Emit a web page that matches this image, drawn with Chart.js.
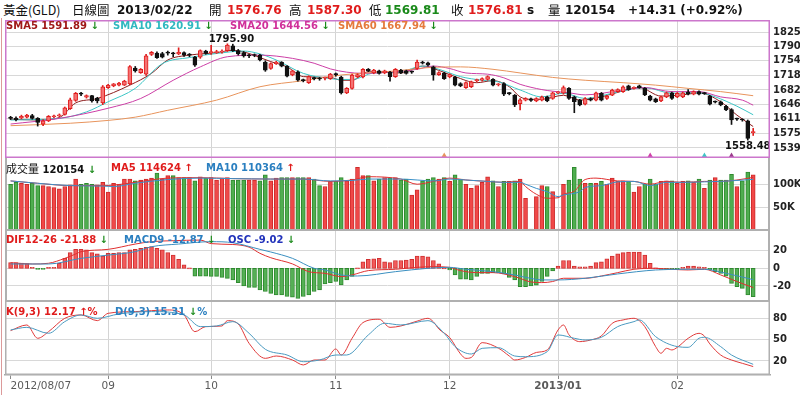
<!DOCTYPE html>
<html>
<head>
<meta charset="utf-8">
<script src="https://cdn.jsdelivr.net/npm/chart.js@4.4.1/dist/chart.umd.min.js"></script>
<style>
body { margin:0; width:800px; height:395px; background:#fff; position:relative; overflow:hidden; font-family:"DejaVu Sans", Verdana, sans-serif; }
canvas { position:absolute; left:0; }
.h { position:absolute; top:3px; white-space:nowrap; font-size:12px; font-weight:bold; line-height:14px; color:#111; }
.cjk { font-family:"Noto Sans CJK TC", sans-serif; font-weight:normal; font-size:12.5px; }
.t { position:absolute; white-space:nowrap; font-size:10px; font-weight:bold; line-height:12px; }
.red { color:#e01c1c; } .grn { color:#1a8a1a; } .blu { color:#2a7fc0; }
.edge { position:absolute; left:1px; top:18px; width:1px; height:377px; background:#dc9a9a; }
</style>
</head>
<body>
<canvas id="cMain" width="800" height="138" style="top:20px"></canvas>
<canvas id="cVol" width="800" height="73" style="top:158px"></canvas>
<canvas id="cMacd" width="800" height="71" style="top:231px"></canvas>
<canvas id="cKd" width="800" height="93" style="top:302px"></canvas>
<div class="edge"></div>

<div class="h cjk" style="left:3px">黃金(GLD)</div>
<div class="h cjk" style="left:72px">日線圖</div>
<div class="h" style="left:117px">2013/02/22</div>
<div class="h cjk" style="left:209px">開</div>
<div class="h red" style="left:227px">1576.76</div>
<div class="h cjk" style="left:289px">高</div>
<div class="h red" style="left:307px">1587.30</div>
<div class="h cjk" style="left:369px">低</div>
<div class="h grn" style="left:385px">1569.81</div>
<div class="h cjk" style="left:451px">收</div>
<div class="h red" style="left:468px">1576.81</div>
<div class="h" style="left:527px">s</div>
<div class="h cjk" style="left:548px">量</div>
<div class="h" style="left:565px">120154</div>
<div class="h" style="left:628px">+14.31 (+0.92%)</div>

<div class="t" style="left:6px;top:20px;color:#a01818">SMA5 1591.89 <span class="grn">↓</span></div>
<div class="t" style="left:113px;top:20px;color:#30b8c0">SMA10 1620.91 <span class="grn">↓</span></div>
<div class="t" style="left:230px;top:20px;color:#d0309a">SMA20 1644.56 <span class="grn">↓</span></div>
<div class="t" style="left:338px;top:20px;color:#e57a3c">SMA60 1667.94 <span class="grn">↓</span></div>

<div class="t" style="left:6px;top:162px;color:#111"><span style="font-family:'Noto Sans CJK TC';font-weight:normal;font-size:11px">成交量</span> 120154 <span class="grn">↓</span></div>
<div class="t red" style="left:111px;top:162px">MA5 114624 ↑</div>
<div class="t blu" style="left:206px;top:162px">MA10 110364 <span class="red">↑</span></div>

<div class="t red" style="left:6px;top:234px">DIF12-26 -21.88 <span class="grn">↓</span></div>
<div class="t blu" style="left:124px;top:234px">MACD9 -12.87 <span class="grn">↓</span></div>
<div class="t" style="left:228px;top:234px;color:#2233bb">OSC -9.02 <span class="grn">↓</span></div>

<div class="t red" style="left:6px;top:306px">K(9,3) 12.17 ↑%</div>
<div class="t blu" style="left:115px;top:306px">D(9,3) 15.31 <span class="grn">↓</span>%</div>

<script>
// trading days 2012/08/07 .. 2013/02/22, one entry per day
const opens = [1614,1613,1613,1615,1619,1612,1598,1606,1616,1618,1622,1636,1656,1673,1664,1668,1662,1650,1688,1692,
  1694,1694,1697,1736,1725,1721,1770,1773,1772,1774,1772,1771,1774,1769,1763,1763,1778,1774,1774,1775,
  1779,1791,1779,1774,1767,1768,1768,1751,1735,1747,1750,1741,1719,1727,1706,1700,1711,1710,1711,1710,
  1721,1714,1675,1686,1714,1714,1733,1724,1729,1724,1726,1715,1731,1729,1727,1735,1751,1749,1739,1720,
  1724,1714,1714,1698,1688,1690,1705,1706,1708,1708,1695,1698,1674,1669,1648,1657,1660,1655,1657,1665,
  1661,1675,1674,1686,1665,1657,1647,1661,1657,1674,1661,1669.5,1678,1678,1692,1686,1692,1686,1667,1660,
  1655,1665,1675,1665,1665,1677,1672,1678,1674,1667,1653,1653,1642,1634,1611,1609,1606,1576.76];
const highs = [1617,1616,1620,1622,1622,1614,1609,1619,1620,1623,1640,1662,1676,1676,1670,1669,1664,1693,1696,1698,
  1701,1706,1742,1740,1735,1770,1777,1776,1775,1778,1775,1786,1776,1772,1765,1781,1780,1792,1780,1781,
  1795.9,1795,1782,1777,1770,1771,1770,1754,1749,1753,1752,1742,1731,1729,1709,1717,1714,1713,1714,1723,
  1724,1716,1688,1721,1722,1735,1735,1733,1731,1731,1728,1735,1733,1731,1729,1756,1753,1751,1741,1727,
  1726,1722,1716,1700,1702,1704,1709,1712,1717,1710,1698,1700,1676,1671,1661,1663,1662,1663,1667,1667,
  1677,1678,1692,1688,1667,1659,1663,1663,1677,1676,1669,1684,1685,1692,1694,1690,1694,1688,1669,1662,
  1667,1677,1677,1676,1677,1683,1680,1680,1676,1669,1655,1655,1644,1636,1613,1611,1608,1587.30];
const lows = [1609,1606,1611,1613,1610,1593,1594,1604,1614,1616,1620,1634,1654,1668,1662,1652,1650,1646,1686,1690,
  1692,1693,1695,1726,1723,1718,1767,1760,1761,1768,1764,1769,1765,1764,1740,1760,1770,1770,1772,1773,
  1777,1777,1768,1763,1762,1764,1754,1728,1733,1745,1739,1714,1717,1704,1702,1698,1707,1706,1707,1708,
  1716,1672,1673,1684,1712,1712,1727,1722,1721,1722,1704,1713,1722,1721,1723,1733,1746,1741,1706,1718,
  1708,1712,1692,1690,1686,1688,1702,1704,1706,1692,1692,1668,1670,1641,1633,1655,1654,1653,1655,1653,
  1659,1673,1672,1659,1626,1643,1645,1655,1655,1655,1659,1668,1676,1676,1681,1684,1686,1668,1655,1651,
  1653,1663,1659,1663,1663,1670,1670,1670,1671,1645,1650,1643,1631,1597,1607,1605,1558.48,1569.81];
const closes = [1612,1609,1617,1620,1612,1602,1606,1617,1618,1621,1638,1658,1674,1672,1668,1655,1655,1690,1694,1697,
  1699,1704,1740,1729,1733,1766,1775,1762,1763,1773,1771,1775,1768,1768,1743,1779,1772,1775,1777,1778,
  1793,1779,1771,1766,1766,1767,1756,1731,1747,1751,1741,1716,1729,1706,1705,1715,1710,1709,1712,1721,
  1720,1675,1686,1719,1720,1733,1729,1731,1723,1729,1715,1733,1724,1723,1726,1751,1748,1743,1719,1725,
  1710,1720,1694,1692,1700,1702,1706,1710,1715,1694,1696,1672,1673,1645,1658,1661,1656,1661,1665,1655,
  1675,1676,1688,1661,1653,1645,1661,1657,1675,1657,1667,1682,1683,1690,1683,1688,1688,1670,1657,1653,
  1665,1675,1661,1674,1675,1672,1678,1672,1673,1647,1652,1645,1633,1608,1610,1608,1562.5,1576.81];
// volume in thousands
const volK = [100,104,102,100,102,97,97,95,93,90,95,98.5,111,100,102,100,98.5,104,83,102,
  100,111,111,107,109,111,113,124,111,118.5,118.5,114,114,114,107,116,113,114,109,113,
  114,109,109,109,109,109,107,120,107,113,114,114,114,114,114,114,111,97,95,106,
  106,114,107,111,136,118.5,118.5,107,111,114,113,114,109,111,77,88,107,111,114,111,
  114,106,120,111,100,91,97,104,116,107,95,106,106,107,111,70,4,73.5,97,95,
  84,4,100,109,136,111,102,102,102,106,100,113,106,107,106,83,95,100,111,100,
  106,107,107,102,106,107,104,111,91,109,114,109,109,121,95,107,126,120.154];
const osc = [1.8,1.8,1.7,1.5,0.1,-0.3,-0.3,0.1,0.1,1.6,3.2,5.0,6.1,6.1,5.9,5.0,4.6,3.9,4.8,4.8,
  5.0,5.0,5.9,6.1,6.4,6.7,6.9,6.4,5.9,5.0,4.2,2.9,1.1,0,-2.5,-2.5,-2.5,-2.6,-2.6,-2.9,
  -3.2,-3.7,-4.6,-5.6,-6.1,-6.1,-6.9,-7.4,-8.0,-8.5,-8.5,-9.0,-9.2,-9.6,-9.0,-8.5,-7.4,-6.9,-5.0,-4.6,
  -4.2,-5.3,-3.7,-2.6,0,2.1,2.9,3.0,3.2,2.1,1.8,2.5,2.5,2.6,2.9,3.9,3.9,3.7,2.5,1.4,
  0,-0.5,-2.1,-3.5,-3.5,-3.7,-2.6,-1.6,-1.6,-1.4,-1.4,-1.8,-2.9,-3.7,-5.9,-5.9,-5.6,-5.4,-4.2,-2.6,
  -0.8,0.7,2.5,2.5,0.7,0.5,0.5,0.7,1.8,2.1,3.0,3.9,4.6,5.0,5.2,5.2,5.2,4.2,1.6,0,
  -0.1,-0.1,-0.1,-0.1,0.3,0.7,0.7,0.5,0.1,-0.5,-1.1,-1.6,-2.5,-4.8,-5.9,-6.4,-8.5,-9.02];

// indicator lines: [day index, value]
const sma5 = [[0,1610],[5,1608],[9,1614],[12,1650],[16,1661],[22,1694],[26,1723],[29,1756],[33,1768],[38,1774],[41,1780],[44,1772],[46,1762],[48,1752],[51,1739],[54,1715],[59,1713],[61,1706],[63,1706],[66,1727],[72,1724],[76,1741],[78,1735],[82,1715],[86,1700],[89,1705],[92,1690],[94,1665],[96,1659],[98,1659],[102,1669],[105,1657],[109,1665],[113,1680],[116,1688],[120,1667],[124,1670],[127,1675],[131,1653],[134,1620],[137,1591.89]];
const sma10 = [[0,1608],[9,1612],[14,1628],[18,1653],[23,1686],[28,1747],[33,1762],[38,1772],[43,1778],[46,1771],[49,1756],[54,1723],[59,1710],[61,1708],[63,1708],[67,1724],[72,1727],[76,1741],[79,1733],[83,1715],[87,1706],[90,1702],[94,1682],[98,1665],[102,1674],[106,1661],[111,1674],[117,1688],[122,1674],[127,1675],[130,1665],[134,1642],[137,1620.91]];
const sma20 = [[0,1598],[9,1612],[18,1637],[24,1661],[30,1706],[35,1739],[40,1764],[46,1768],[52,1760],[56,1748],[59,1734],[62,1726],[65,1723],[71,1727],[75,1733],[78,1741],[81,1735],[84,1724],[88,1721],[91,1712],[94,1696],[98,1683],[100,1679],[103,1675],[106,1670],[113,1682],[117,1688],[122,1678],[127,1678],[131,1665],[135,1657],[137,1644.56]];
const sma60 = [[0,1594],[11,1600],[18,1607],[23,1615],[29,1632],[38,1657],[46,1690],[54,1705],[61,1719],[71,1729],[78,1738],[83,1739],[89,1733],[94,1724],[100,1713],[106,1706],[113,1700],[119,1694],[125,1686],[131,1678],[137,1667.94]];
const volMa5 = [[0,107],[5,102],[11,97],[17,97],[19,98],[23,104],[29,113],[35,114],[41,112],[48,111],[54,111],[59,106],[63,109],[66,116],[72,111],[75,100],[78,106],[81,113],[84,109],[88,106],[91,104],[94,106],[95,95],[97,78.5],[99,70],[101,71],[102,78.5],[104,85],[106,110],[108,113],[112,107],[115,106],[118,100],[121,106],[124,104],[128,106],[131,106],[134,109],[137,114.624]];
const volMa10 = [[0,107],[5,102],[11,97],[17,96],[19,95],[23,102],[29,110],[35,113],[41,112],[48,111],[54,111],[59,107],[63,108],[66,111],[72,111],[75,109],[78,107],[81,111],[84,109],[88,106],[91,104],[94,104],[95,100],[97,91],[99,84],[101,73.5],[102,77],[105,84],[106,93],[109,97],[112,105],[115,106],[118,97],[121,104],[124,104],[128,105],[131,106],[134,108],[137,110.364]];
const dif = [[0,6.4],[4,4.9],[7,5.7],[10,11.3],[12,16.2],[13,18.9],[18,21.5],[23,27.5],[26,30.2],[30,31.3],[35,32],[37,28],[41,27],[44,24],[46,17],[48,12],[52,5],[55,-3.8],[58,-5.7],[61,-9.4],[63,-7.5],[66,-2.6],[71,-1.1],[75,1.1],[78,1.9],[81,1.1],[83,-2.6],[86,-4.9],[89,-4.9],[93,-9.4],[96,-15.5],[98,-16.2],[100,-15],[102,-11.3],[106,-11.3],[109,-8.7],[112,-4.9],[115,-1.1],[119,0],[122,-1.1],[125,-1.9],[128,-1.1],[131,-7.5],[134,-15],[137,-21.88]];
const macd = [[0,4.9],[7,4.9],[13,11.3],[18,15],[23,18.9],[26,24.5],[31,27.5],[37,30.2],[41,29],[46,21.5],[48,18.5],[52,11.3],[56,0],[58,-1.9],[61,-7.5],[64,-8.7],[71,-3.8],[77,0],[81,1.1],[84,-1.1],[89,-3.8],[93,-7.5],[96,-11.5],[98,-13.2],[101,-13.2],[106,-11.3],[112,-6.4],[119,-1.9],[125,-1.1],[128,-1.1],[132,-5.7],[137,-12.87]];
const kLine = [[0,62.7],[3,70.6],[5,51.9],[7,61.2],[10,80],[13,84.7],[16,76.7],[18,87],[23,89.4],[29,91.7],[32,84.7],[34,61.2],[36,68.3],[39,69.2],[40,76.7],[42,72],[44,44.8],[47,23.7],[49,27],[52,21.4],[54,14.4],[56,21.4],[58,21.4],[60,36.9],[61,28.4],[63,51.9],[65,73.9],[68,78.6],[70,67.3],[72,69.2],[75,76],[77,80],[78,75],[79,65],[81,53],[83,30],[84,23.7],[85,25],[87,45.8],[90,38],[92,27],[93,21.4],[95,25],[97,32],[99,35.5],[101,63.6],[102,70.6],[103,57],[105,47.2],[107,49.5],[109,55.2],[111,73],[113,77.7],[115,80],[117,68.3],[119,40.2],[120,30.8],[121,37.8],[122,35.5],[123,39.2],[125,51.9],[127,58.9],[128,55],[129,44],[131,28.4],[133,21.4],[135,16.7],[137,12.17]];
const dLine = [[0,63.6],[3,67.3],[7,58.9],[10,75.3],[13,84.7],[16,80],[20,86.1],[26,89.4],[32,84.7],[35,68.3],[38,69.2],[41,75.3],[44,58.9],[47,36.4],[51,28.4],[54,19],[57,21.4],[60,28.4],[62,28.4],[66,56.6],[69,73],[72,70.6],[77,76.7],[80,58.9],[82,40.2],[85,29.8],[87,37.8],[90,38.7],[93,27],[95,26],[99,33.1],[101,56.6],[104,51.9],[106,49.5],[109,53.3],[112,68.3],[115,75.3],[116,77.7],[119,54.2],[123,40.2],[125,39.2],[127,51.9],[128,53.3],[131,40.2],[133,28.4],[137,15.31]];

// signal markers under the price panel
const markerIdx = [80, 118, 128, 133];

// axis ticks
const monthTickIdx = [0, 18, 37, 60, 81, 101, 123, 140];
const monthTickLabels = ['2012/08/07', '09', '10', '11', '12', '2013/01', '02', ''];
const priceTicks = [1539, 1575, 1611, 1646, 1682, 1718, 1754, 1790, 1825];
const volTicks = [50, 100];
const macdTicks = [-20, 0, 20];
const kdTicks = [20, 50, 80];

const oscDisplayScale = 3.55; // OSC bars are drawn taller than the line scale
const priceMin = 1514.3, priceMax = 1854.6;
const macdMin = -38.2, macdMax = 42.3;

const RED = '#e01c1c', GREEN = '#2f8a2f';
const pts = arr => arr.map(([x, y]) => ({ x, y }));
const days = closes.map((c, i) => i);
const upBar = i => closes[i] >= opens[i];
const upDay = i => i === 0 ? closes[0] >= opens[0] : closes[i] >= closes[i - 1];

const framePlugin = {
  id: 'frame',
  afterDraw(chart, args, o) {
    const a = chart.chartArea, c = chart.ctx, h = o.width / 2;
    c.save();
    c.strokeStyle = o.color;
    c.lineWidth = o.width;
    c.beginPath();
    if (o.top) { c.moveTo(a.left, a.top + h); c.lineTo(a.right, a.top + h); }
    c.moveTo(a.left + h, a.top); c.lineTo(a.left + h, a.bottom);
    c.moveTo(a.right - h, a.top); c.lineTo(a.right - h, a.bottom);
    c.moveTo(a.left, a.bottom - h); c.lineTo(a.right, a.bottom - h);
    c.stroke();
    c.restore();
  }
};

const extremaPlugin = {
  id: 'extrema',
  afterDatasetsDraw(chart) {
    const xs = chart.scales.x, ys = chart.scales.y, c = chart.ctx;
    const hi = highs.indexOf(Math.max(...highs));
    const lo = lows.indexOf(Math.min(...lows));
    c.save();
    c.font = 'bold 10px "DejaVu Sans"';
    c.fillStyle = '#111';
    c.textAlign = 'center';
    c.textBaseline = 'bottom';
    c.fillText(highs[hi].toFixed(2), xs.getPixelForValue(hi) + 4, ys.getPixelForValue(highs[hi]) + 1);
    c.textBaseline = 'top';
    c.fillText(lows[lo].toFixed(2), xs.getPixelForValue(lo), ys.getPixelForValue(lows[lo]) + 1);
    c.restore();
  }
};

function xScale(showLabels) {
  const last = monthTickIdx.length - 1;
  return {
    type: 'linear', min: -1.03, max: 140.1, offset: false,
    afterBuildTicks: s => { s.ticks = monthTickIdx.map(v => ({ value: v })); },
    afterFit: s => { s.height = showLabels ? 20 : 0; },
    grid: {
      offset: false,
      color: c => (c.index === 0 || c.index === last) ? 'rgba(0,0,0,0)' : '#d4d4d4',
      drawTicks: showLabels, tickLength: 4,
      tickColor: c => c.index === last ? 'rgba(0,0,0,0)' : '#8a8a8a'
    },
    border: { display: showLabels, color: '#a8a8a8', width: 1.5 },
    ticks: {
      display: showLabels, autoSkip: false, maxRotation: 0, align: 'inner', padding: 1,
      color: '#5a5a5a',
      font: c => ({ family: 'DejaVu Sans', size: 10.5, weight: monthTickLabels[c.index] === '2013/01' ? 'bold' : 'normal' }),
      callback: (v, i) => monthTickLabels[i]
    }
  };
}

function yScale(min, max, ticks, fmt) {
  return {
    position: 'right', min, max,
    afterBuildTicks: s => { s.ticks = ticks.map(v => ({ value: v })); },
    afterFit: s => { s.width = 30; s.paddingTop = 0; s.paddingBottom = 0; },
    grid: { color: '#d8d8d8', drawTicks: false },
    border: { display: false },
    ticks: { autoSkip: false, padding: 3, color: '#222', font: { family: 'DejaVu Sans', size: 10, weight: 'bold' }, callback: fmt }
  };
}

function baseOptions(scales, frame) {
  return {
    responsive: false, animation: false, events: [],
    layout: { padding: { left: 5, right: 0, top: 0, bottom: 0 }, autoPadding: false },
    plugins: { legend: { display: false }, tooltip: { enabled: false }, frame },
    scales
  };
}

function line(data, color, axis) {
  return {
    type: 'line', data: pts(data), borderColor: color, borderWidth: 1, pointRadius: 0,
    cubicInterpolationMode: 'monotone', fill: false, order: 2, yAxisID: axis || 'y'
  };
}

// price panel
new Chart(document.getElementById('cMain'), {
  type: 'bar',
  data: {
    datasets: [
      {
        data: days.map(i => ({ x: i, y: [opens[i], closes[i]] })),
        backgroundColor: c => upBar(c.dataIndex) ? '#f47272' : '#111',
        borderColor: c => upBar(c.dataIndex) ? RED : '#111',
        borderWidth: 1, borderSkipped: false, barThickness: 4, minBarLength: 1, grouped: false, order: 0
      },
      {
        data: days.map(i => ({ x: i, y: [lows[i], highs[i]] })),
        backgroundColor: c => upBar(c.dataIndex) ? RED : '#111',
        borderWidth: 0, barThickness: 1, grouped: false, order: 1
      },
      line(sma60, '#e8945c'),
      line(sma20, '#cc3fa6'),
      line(sma10, '#3cc6c6'),
      line(sma5, '#8c1c1c'),
      {
        type: 'scatter', data: markerIdx.map(i => ({ x: i, y: priceMin + 6 })),
        pointStyle: 'triangle', pointRadius: 3, borderWidth: 0,
        backgroundColor: ['#e8945c', '#d040a8', '#3cc6c6', '#9c3c8c'], order: 0
      }
    ]
  },
  options: baseOptions({
    x: xScale(false),
    y: yScale(priceMin, priceMax, priceTicks, v => String(v))
  }, { color: '#cc77cc', width: 1.5, top: true }),
  plugins: [framePlugin, extremaPlugin]
});

// volume panel
new Chart(document.getElementById('cVol'), {
  type: 'bar',
  data: {
    datasets: [
      {
        data: days.map(i => ({ x: i, y: volK[i] })),
        backgroundColor: c => upDay(c.dataIndex) ? '#f04848' : '#4fae4f',
        borderColor: c => upDay(c.dataIndex) ? '#cf2a2a' : GREEN,
        borderWidth: 1, borderSkipped: false, barThickness: 4, minBarLength: 1, grouped: false, order: 1
      },
      Object.assign(line(volMa10, '#3a90c8'), { order: 0 }),
      Object.assign(line(volMa5, '#e03030'), { order: 0 })
    ]
  },
  options: baseOptions({
    x: xScale(false),
    y: yScale(0, 156, volTicks, v => v + 'K')
  }, { color: '#b0b0b0', width: 2, top: false }),
  plugins: [framePlugin]
});

// MACD panel
new Chart(document.getElementById('cMacd'), {
  type: 'bar',
  data: {
    datasets: [
      {
        data: days.map(i => ({ x: i, y: osc[i] })),
        yAxisID: 'yo',
        backgroundColor: c => osc[c.dataIndex] >= 0 ? '#f25a5a' : '#55b055',
        borderColor: c => osc[c.dataIndex] >= 0 ? '#d03030' : GREEN,
        borderWidth: 1, borderSkipped: false, barThickness: 4, minBarLength: 1, grouped: false, order: 1
      },
      Object.assign(line(macd, '#3a8fc0'), { order: 0 }),
      Object.assign(line(dif, '#e03030'), { order: 0 })
    ]
  },
  options: baseOptions({
    x: xScale(false),
    y: yScale(macdMin, macdMax, macdTicks, v => String(v)),
    yo: { display: false, min: macdMin / oscDisplayScale, max: macdMax / oscDisplayScale }
  }, { color: '#b0b0b0', width: 2, top: false }),
  plugins: [framePlugin]
});

// KD panel with the date axis
new Chart(document.getElementById('cKd'), {
  type: 'line',
  data: {
    datasets: [
      line(dLine, '#4a9ac0'),
      line(kLine, '#e03a3a')
    ]
  },
  options: baseOptions({
    x: xScale(true),
    y: yScale(0.3, 102.9, kdTicks, v => String(v))
  }, { color: '#b0b0b0', width: 1.5, top: false }),
  plugins: [framePlugin]
});
</script>
</body>
</html>
